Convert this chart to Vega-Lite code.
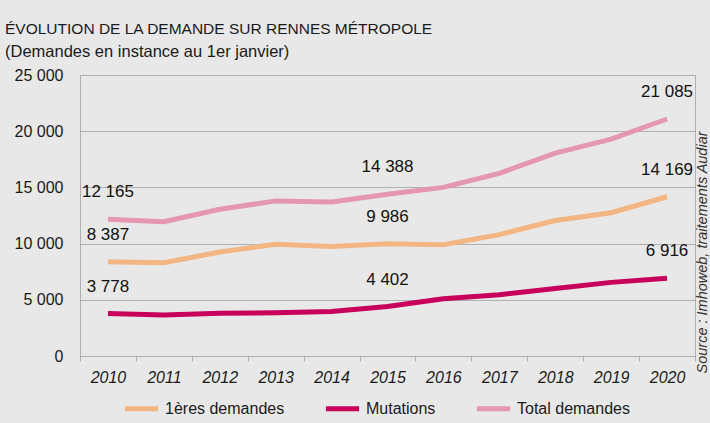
{
  "$schema": "https://vega.github.io/schema/vega-lite/v6.json",
  "width": 615,
  "height": 281,
  "autosize": {"type": "none"},
  "padding": {"left": 80, "top": 75, "right": 15, "bottom": 67},
  "background": "#e8e8e8",
  "title": {
    "text": "ÉVOLUTION DE LA DEMANDE SUR RENNES MÉTROPOLE",
    "subtitle": "(Demandes en instance au 1er janvier)",
    "anchor": "start",
    "frame": "group",
    "dx": -75,
    "offset": 7,
    "font": "Liberation Sans",
    "fontSize": 15.5,
    "fontWeight": "normal",
    "color": "#1a1a1a",
    "subtitleFont": "Liberation Sans",
    "subtitleFontSize": 16.5,
    "subtitleColor": "#1a1a1a",
    "subtitlePadding": 6
  },
  "config": {
    "locale": {"number": {"decimal": ",", "thousands": " ", "grouping": [3], "currency": ["", " €"]}},
    "view": {"stroke": "#b0b0b0", "strokeWidth": 1},
    "font": "Liberation Sans",
    "axis": {
      "labelFont": "Liberation Sans",
      "titleFont": "Liberation Sans",
      "labelColor": "#1a1a1a",
      "domainColor": "#b0b0b0",
      "gridColor": "#b0b0b0",
      "tickColor": "#b0b0b0"
    },
    "legend": {
      "labelFont": "Liberation Sans"
    }
  },
  "data": {
    "values": [
      {"annee": 2010, "serie": "1ères demandes", "valeur": 8387},
      {"annee": 2011, "serie": "1ères demandes", "valeur": 8300},
      {"annee": 2012, "serie": "1ères demandes", "valeur": 9250},
      {"annee": 2013, "serie": "1ères demandes", "valeur": 9950},
      {"annee": 2014, "serie": "1ères demandes", "valeur": 9750},
      {"annee": 2015, "serie": "1ères demandes", "valeur": 9986},
      {"annee": 2016, "serie": "1ères demandes", "valeur": 9900},
      {"annee": 2017, "serie": "1ères demandes", "valeur": 10800},
      {"annee": 2018, "serie": "1ères demandes", "valeur": 12050},
      {"annee": 2019, "serie": "1ères demandes", "valeur": 12750},
      {"annee": 2020, "serie": "1ères demandes", "valeur": 14169},
      {"annee": 2010, "serie": "Mutations", "valeur": 3778},
      {"annee": 2011, "serie": "Mutations", "valeur": 3650},
      {"annee": 2012, "serie": "Mutations", "valeur": 3800},
      {"annee": 2013, "serie": "Mutations", "valeur": 3850},
      {"annee": 2014, "serie": "Mutations", "valeur": 3950},
      {"annee": 2015, "serie": "Mutations", "valeur": 4402},
      {"annee": 2016, "serie": "Mutations", "valeur": 5100},
      {"annee": 2017, "serie": "Mutations", "valeur": 5450},
      {"annee": 2018, "serie": "Mutations", "valeur": 6000},
      {"annee": 2019, "serie": "Mutations", "valeur": 6550},
      {"annee": 2020, "serie": "Mutations", "valeur": 6916},
      {"annee": 2010, "serie": "Total demandes", "valeur": 12165},
      {"annee": 2011, "serie": "Total demandes", "valeur": 11950},
      {"annee": 2012, "serie": "Total demandes", "valeur": 13050},
      {"annee": 2013, "serie": "Total demandes", "valeur": 13800},
      {"annee": 2014, "serie": "Total demandes", "valeur": 13700},
      {"annee": 2015, "serie": "Total demandes", "valeur": 14388},
      {"annee": 2016, "serie": "Total demandes", "valeur": 15000},
      {"annee": 2017, "serie": "Total demandes", "valeur": 16250},
      {"annee": 2018, "serie": "Total demandes", "valeur": 18050},
      {"annee": 2019, "serie": "Total demandes", "valeur": 19300},
      {"annee": 2020, "serie": "Total demandes", "valeur": 21085}
    ]
  },
  "encoding": {
    "x": {
      "field": "annee",
      "type": "ordinal",
      "bandPosition": 0.5,
      "scale": {"type": "band", "paddingInner": 0, "paddingOuter": 0},
      "axis": {
        "title": null,
        "labelAngle": 0,
        "labelFontSize": 16,
        "labelFontStyle": "italic",
        "labelPadding": 8,
        "tickBand": "extent",
        "tickSize": 5,
        "domainColor": "#b0b0b0"
      }
    },
    "y": {
      "field": "valeur",
      "type": "quantitative",
      "scale": {"domain": [0, 25000], "nice": false}
    }
  },
  "layer": [
    {
      "mark": {"type": "line", "strokeWidth": 5, "strokeCap": "butt"},
      "encoding": {
        "y": {
          "field": "valeur",
          "type": "quantitative",
          "axis": {
            "title": null,
            "orient": "left",
            "values": [0, 5000, 10000, 15000, 20000, 25000],
            "format": ",d",
            "labelFontSize": 16,
            "labelPadding": 17,
            "ticks": false,
            "grid": true
          }
        },
        "color": {
          "field": "serie",
          "type": "nominal",
          "scale": {
            "domain": ["1ères demandes", "Mutations", "Total demandes"],
            "range": ["#f3b581", "#c8005b", "#e597b0"]
          },
          "legend": {
            "title": null,
            "orient": "none",
            "direction": "horizontal",
            "legendX": 42,
            "legendY": 314,
            "symbolType": "stroke",
            "symbolSize": 1100,
            "symbolStrokeWidth": 5,
            "labelFontSize": 16,
            "labelColor": "#1a1a1a",
            "labelOffset": 4,
            "columnPadding": 30
          }
        }
      }
    },
    {
      "transform": [{"filter": {"field": "annee", "oneOf": [2010, 2015, 2020]}}],
      "mark": {
        "type": "text",
        "dy": -27,
        "fontSize": 17,
        "font": "Liberation Sans",
        "color": "#111111"
      },
      "encoding": {
        "text": {"field": "valeur", "type": "quantitative", "format": ",d"},
        "y": {
          "field": "valeur",
          "type": "quantitative",
          "axis": {
            "orient": "right",
            "domain": true,
            "domainColor": "#b0b0b0",
            "title": "Source : Imhoweb, traitements Audiar",
            "titleAngle": 270,
            "titleFontStyle": "italic",
            "titleFontWeight": "normal",
            "titleFontSize": 14.5,
            "titleColor": "#333333",
            "titleAlign": "left",
            "titleBaseline": "middle",
            "titleX": 7,
            "titleY": 298,
            "labels": false,
            "ticks": false,
            "grid": false
          }
        }
      }
    }
  ],
  "resolve": {"axis": {"y": "independent"}}
}
